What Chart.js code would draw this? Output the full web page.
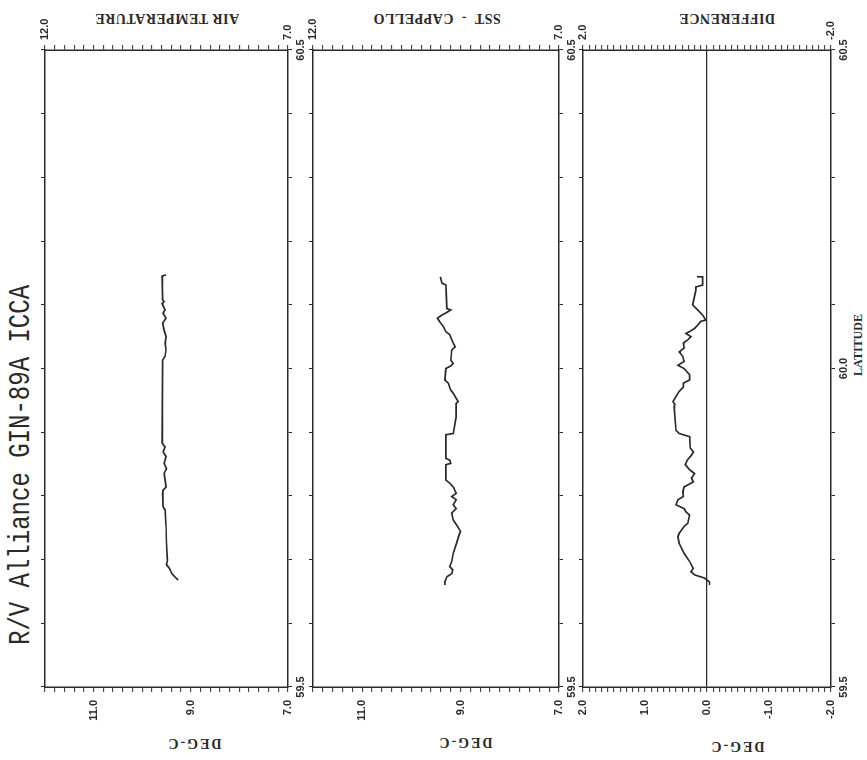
<!DOCTYPE html>
<html>
<head>
<meta charset="utf-8">
<script src="https://cdn.jsdelivr.net/npm/chart.js@4.4.1/dist/chart.umd.min.js"></script>
<style>
  body { margin: 0; background: #fff; width: 867px; height: 760px; overflow: hidden; position: relative; }
  /* plot is laid out upright, then the whole sheet is turned a quarter turn like the scan */
  #sheet { position: absolute; left: 0; top: 0; width: 760px; height: 867px;
           transform-origin: 0 0; transform: translateY(760px) rotate(-90deg); }
  #sheet canvas { position: absolute; left: 0; top: 0; }
  .txt { position: absolute; white-space: pre; color: #2a2a2a; }
  .side { font: bold 14px "Liberation Serif"; letter-spacing: 0.5px; transform: translate(-50%, -50%) rotate(-90deg); }
  .unit { font: bold 14px "Liberation Serif"; letter-spacing: 2px; transform: translate(-50%, -50%) rotate(-90deg); }
</style>
</head>
<body>
<div id="sheet">
  <div class="txt" style="left:115px; top:8px; font: 24px 'Liberation Mono'; transform: scaleY(1.2); transform-origin: 0 50%;">R/V Alliance GIN-89A ICCA</div>

  <div class="txt side" style="left:742px; top:167px;">AIR TEMPERATURE</div>
  <div class="txt side" style="left:742px; top:437px;">SST  -  CAPPELLO</div>
  <div class="txt side" style="left:742px; top:727px;">DIFFERENCE</div>

  <div class="txt unit" style="left:17px; top:194px;">DEG-C</div>
  <div class="txt unit" style="left:18px; top:465px;">DEG-C</div>
  <div class="txt unit" style="left:14px; top:737px;">DEG-C</div>

  <div class="txt" style="left:415px; top:858px; font: bold 12px 'Liberation Serif'; transform: translate(-50%, -50%);">LATITUDE</div>

  <canvas id="airChart" width="760" height="867"></canvas>
  <canvas id="sstChart" width="760" height="867"></canvas>
  <canvas id="diffChart" width="760" height="867"></canvas>
</div>

<script>
// Air temperature (deg C) along the track
const airLat = [60.147, 60.145, 60.108, 60.105, 60.102, 60.092, 60.087, 60.079, 60.071, 60.060,
                60.050, 60.040, 60.029, 60.019, 60.013, 59.883, 59.877, 59.869, 59.862, 59.851,
                59.843, 59.835, 59.825, 59.814, 59.809, 59.804, 59.783, 59.778, 59.752, 59.726,
                59.699, 59.692, 59.686, 59.678, 59.673, 59.668];
const airTemp = [9.51, 9.59, 9.58, 9.55, 9.59, 9.53, 9.57, 9.51, 9.58, 9.55,
                 9.51, 9.53, 9.51, 9.53, 9.58, 9.59, 9.53, 9.57, 9.51, 9.55,
                 9.50, 9.55, 9.53, 9.51, 9.57, 9.58, 9.57, 9.53, 9.51, 9.50,
                 9.48, 9.50, 9.44, 9.39, 9.33, 9.26];

// SST - Cappello
const sstLat = [60.144, 60.134, 60.131, 60.094, 60.092, 60.088, 60.084, 60.079, 60.074, 60.066,
                60.058, 60.053, 60.045, 60.040, 60.034, 60.029, 60.013, 60.008, 60.004, 60.000,
                59.982, 59.977, 59.966, 59.961, 59.953, 59.948, 59.945, 59.924, 59.898, 59.896,
                59.859, 59.856, 59.851, 59.849, 59.825, 59.820, 59.814, 59.804, 59.799, 59.794,
                59.786, 59.780, 59.773, 59.762, 59.754, 59.744, 59.739, 59.726, 59.710, 59.697,
                59.689, 59.684, 59.678, 59.673, 59.665, 59.660];
const sstTemp = [9.41, 9.38, 9.30, 9.28, 9.20, 9.28, 9.38, 9.47, 9.43, 9.35,
                 9.30, 9.22, 9.18, 9.15, 9.11, 9.18, 9.20, 9.15, 9.20, 9.30,
                 9.32, 9.25, 9.20, 9.15, 9.09, 9.05, 9.09, 9.09, 9.15, 9.30,
                 9.30, 9.22, 9.20, 9.30, 9.30, 9.22, 9.15, 9.09, 9.18, 9.09,
                 9.15, 9.09, 9.18, 9.15, 9.08, 9.00, 9.03, 9.08, 9.15, 9.18,
                 9.22, 9.16, 9.18, 9.28, 9.32, 9.32];

// Difference (air - sst)
const diffLat = [60.144, 60.144, 60.131, 60.128, 60.123, 60.105, 60.100, 60.092, 60.084, 60.076,
                 60.074, 60.068, 60.063, 60.058, 60.055, 60.050, 60.045, 60.040, 60.032, 60.026,
                 60.019, 60.011, 60.005, 60.000, 59.990, 59.982, 59.977, 59.971, 59.964, 59.956,
                 59.948, 59.944, 59.940, 59.903, 59.898, 59.893, 59.875, 59.869, 59.864, 59.856,
                 59.849, 59.841, 59.835, 59.828, 59.822, 59.814, 59.807, 59.799, 59.794, 59.786,
                 59.780, 59.775, 59.770, 59.757, 59.752, 59.741, 59.736, 59.726, 59.710, 59.697,
                 59.686, 59.681, 59.676, 59.671, 59.665, 59.660];
const diffVal = [0.16, 0.07, 0.07, 0.18, 0.18, 0.22, 0.23, 0.15, 0.07, 0.02,
                 0.10, 0.15, 0.20, 0.28, 0.34, 0.26, 0.31, 0.38, 0.37, 0.45,
                 0.39, 0.37, 0.47, 0.37, 0.28, 0.28, 0.38, 0.38, 0.45, 0.50,
                 0.55, 0.52, 0.53, 0.50, 0.45, 0.28, 0.27, 0.22, 0.25, 0.32,
                 0.35, 0.28, 0.20, 0.25, 0.22, 0.37, 0.39, 0.38, 0.47, 0.50,
                 0.37, 0.34, 0.28, 0.31, 0.37, 0.45, 0.47, 0.45, 0.37, 0.28,
                 0.22, 0.26, 0.20, 0.04, -0.04, -0.04];

// tick labels
const latLabelsShort = [59.5, 60.5];
const latLabelsFull = [59.5, 60.0, 60.5];
const tempLabelsLeft = [11.0, 9.0, 7.0];
const tempLabelsRight = [12.0, 7.0];
const diffLabelsLeft = [2.0, 1.0, 0.0, -1.0, -2.0];
const diffLabelsRight = [2.0, -2.0];

const ink = '#2a2a2a';
const tickFont = { family: 'Liberation Sans', size: 11, weight: 'bold' };

function pick(v, labels) {
    return labels.some(l => Math.abs(l - v) < 1e-6) ? v.toFixed(1) : '';
}

function latAxis(pos, labels, h) {
    return {
        type: 'linear', axis: 'x', position: pos, min: 59.5, max: 60.5,
        afterFit: s => { s.height = h; },
        border: { display: true, color: ink, width: 1.5 },
        grid: { drawOnChartArea: false, tickLength: 4, tickColor: ink, tickWidth: 1 },
        ticks: {
            stepSize: 0.1, maxTicksLimit: 100, autoSkip: false, maxRotation: 0, minRotation: 0,
            padding: 2, color: ink, font: tickFont,
            callback: v => pick(v, labels)
        }
    };
}

function valAxis(pos, p, labels, w, zero) {
    return {
        type: 'linear', axis: 'y', position: pos, min: p.min, max: p.max,
        afterFit: s => { s.width = w; },
        border: { display: true, color: ink, width: 1.5 },
        grid: {
            drawOnChartArea: zero,
            color: c => (c.tick && Math.abs(c.tick.value) < 1e-9) ? ink : 'rgba(0,0,0,0)',
            lineWidth: 1.3, tickLength: 5, tickColor: ink, tickWidth: 1
        },
        ticks: {
            stepSize: p.step, maxTicksLimit: 100, autoSkip: false,
            padding: pos === 'left' ? 8 : 5, color: ink, font: tickFont,
            callback: v => pick(v, labels)
        }
    };
}

function panel(id, lat, vals, p) {
    new Chart(document.getElementById(id), {
        type: 'scatter',
        data: {
            datasets: [{
                data: lat.map((x, i) => ({ x: x, y: vals[i] })),
                showLine: true,
                borderColor: ink,
                borderWidth: 1.7,
                pointRadius: 0,
                tension: 0
            }]
        },
        options: {
            responsive: false,
            animation: false,
            devicePixelRatio: 1,
            layout: { padding: { left: 0, right: 0, top: p.top - 10, bottom: 867 - p.bottom - p.latH } },
            plugins: { legend: { display: false }, tooltip: { enabled: false } },
            scales: {
                x: latAxis('bottom', p.latLabels, p.latH),
                xTop: latAxis('top', [], 10),
                y: valAxis('left', p, p.left, 73, !!p.zero),
                yRight: valAxis('right', p, p.right, 50, false)
            }
        }
    });
}

panel('airChart', airLat, airTemp, {
    top: 45, bottom: 288, latH: 20, min: 7, max: 12, step: 0.2,
    left: tempLabelsLeft, right: tempLabelsRight, latLabels: latLabelsShort
});
panel('sstChart', sstLat, sstTemp, {
    top: 313, bottom: 559, latH: 20, min: 7, max: 12, step: 0.2,
    left: tempLabelsLeft, right: tempLabelsRight, latLabels: latLabelsShort
});
panel('diffChart', diffLat, diffVal, {
    top: 583, bottom: 831, latH: 36, min: -2, max: 2, step: 0.1,
    left: diffLabelsLeft, right: diffLabelsRight, latLabels: latLabelsFull, zero: true
});
</script>
</body>
</html>
